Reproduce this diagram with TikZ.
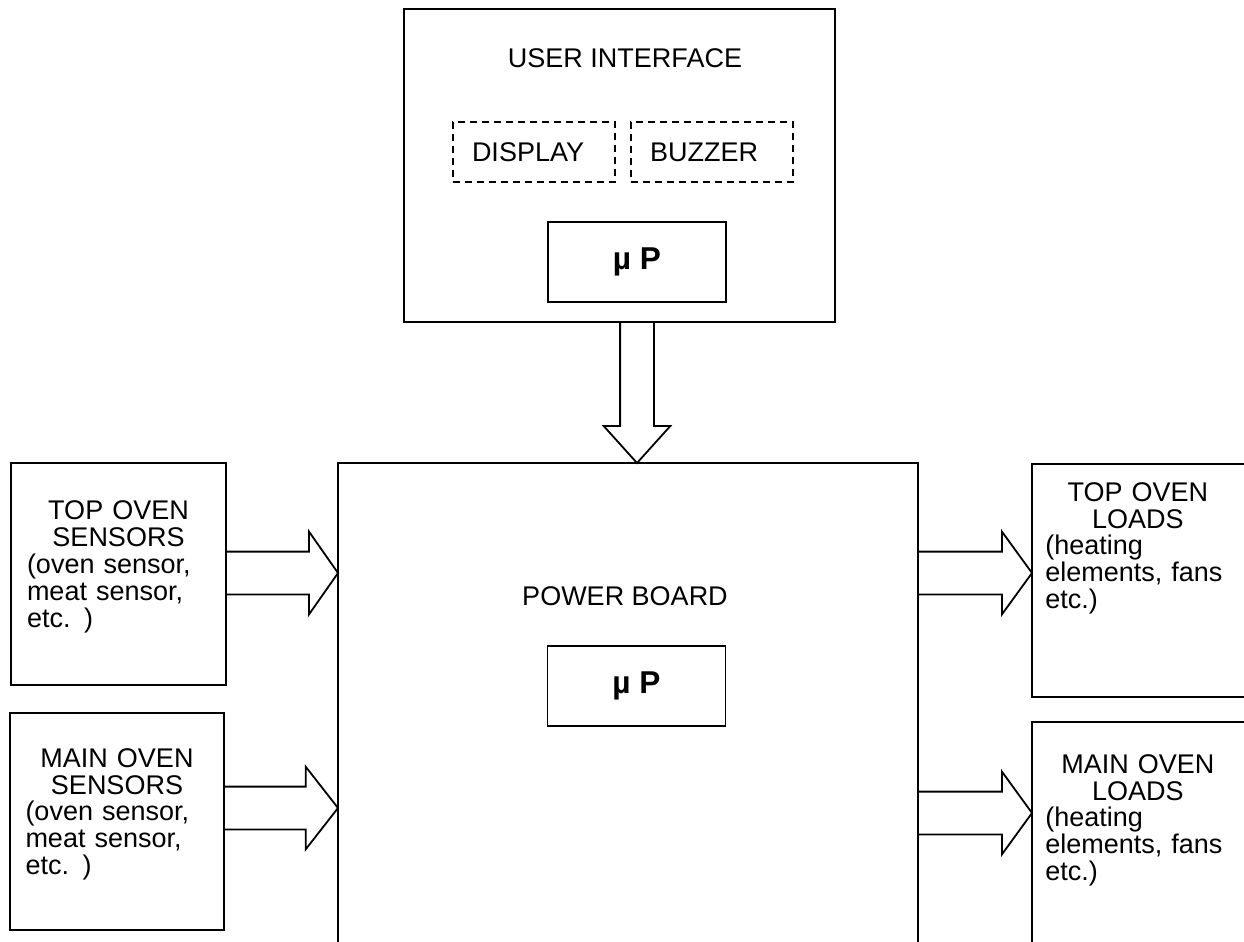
\documentclass[tikz,border=0pt]{standalone}
\usepackage{fontspec}
\setmainfont{Liberation Sans}
\usepackage{tikz}
\usetikzlibrary{shapes.arrows}
\newcommand{\ovenfont}{\fontsize{13.5}{13.4}\selectfont}
\newcommand{\lowpad}{\rule[-10pt]{0pt}{1pt}}
\tikzset{
box/.style={draw, line width=0.9pt, inner sep=0pt, outer sep=0pt, font=\ovenfont}, % plain block
dbox/.style={box, dash pattern=on 3.5pt off 2.5pt, line width=0.7pt}, % dashed part of the user interface
mp/.style={box, minimum width=89pt, minimum height=40pt, font=\fontsize{15.8}{16}\selectfont\bfseries}, % micro processor
lbl/.style={inner sep=0pt, font=\ovenfont}, % free text
fat/.style={draw, single arrow, line width=0.9pt, inner xsep=0pt, inner ysep=10.25pt, outer sep=0pt,
  single arrow head extend=10pt, single arrow tip angle=108, anchor=tip}, % hollow block arrow
}

\begin{document}
\begin{tikzpicture}[x=0.5pt, y=-0.5pt]
\useasboundingbox (0,0) rectangle (1244,942);
\clip (0,0) rectangle (1244,942);

% user interface
\node[box, minimum width=215.5pt, minimum height=156.5pt] (ui) at (619.5,165.5) {};
\node[lbl] (uititle) at (625,58.5) {USER INTERFACE};
\node[dbox, minimum width=81pt, minimum height=30pt, text width=62pt, align=left] (disp) at (534,152) {DISPLAY};
\node[dbox, minimum width=81pt, minimum height=30pt, text width=62pt, align=left] (buzz) at (712,152) {BUZZER};
\node[mp] (uimp) at (637,262) {µ P};

% power board
\node[box, minimum width=290pt, minimum height=268.5pt] (pb) at (628,731.5) {};
\node[lbl] (pbtitle) at (625,596) {POWER BOARD};
\node[mp] (pbmp) at (636.5,686) {µ P};

% sensors
\node[box, minimum width=107.5pt, minimum height=111pt, text width=91.5pt, align=left] (tos) at (118.5,574)
 {{\centering TOP OVEN\\SENSORS\par}(oven sensor,\\meat sensor,\\etc. )\lowpad};
\node[box, minimum width=107pt, minimum height=108.5pt, text width=91.5pt, align=left] (mos) at (117,821.5)
 {{\centering MAIN OVEN\\SENSORS\par}(oven sensor,\\meat sensor,\\etc. )\lowpad};

% loads
\node[box, minimum width=134pt, minimum height=116.5pt] (tol) at (1166,580.5) {};
\node[lbl, anchor=north west, text width=92.5pt, align=left] (toltext) at (1045,482)
 {{\centering TOP OVEN\\LOADS\par}(heating\\elements, fans\\etc.)};
\node[box, minimum width=134pt, minimum height=139pt] (mol) at (1166,861) {};
\node[lbl, anchor=north west, text width=92.5pt, align=left] (moltext) at (1045,754)
 {{\centering MAIN OVEN\\LOADS\par}(heating\\elements, fans\\etc.)};

% block arrows
\node[fat, rotate=-90, minimum height=70.5pt, inner ysep=8pt, single arrow head extend=8.25pt, single arrow tip angle=84] (a0) at (uimp.south |- pb.north) {};
\node[fat, minimum height=56pt, single arrow tip angle=110] (a1) at (pb.west |- 0,573) {};
\node[fat, minimum height=57pt, single arrow tip angle=104] (a2) at (pb.west |- 0,808) {};
\node[fat, minimum height=57pt] (a3) at (tol.west |- 0,573) {};
\node[fat, minimum height=57pt] (a4) at (mol.west |- 0,813) {};

\end{tikzpicture}
\end{document}
